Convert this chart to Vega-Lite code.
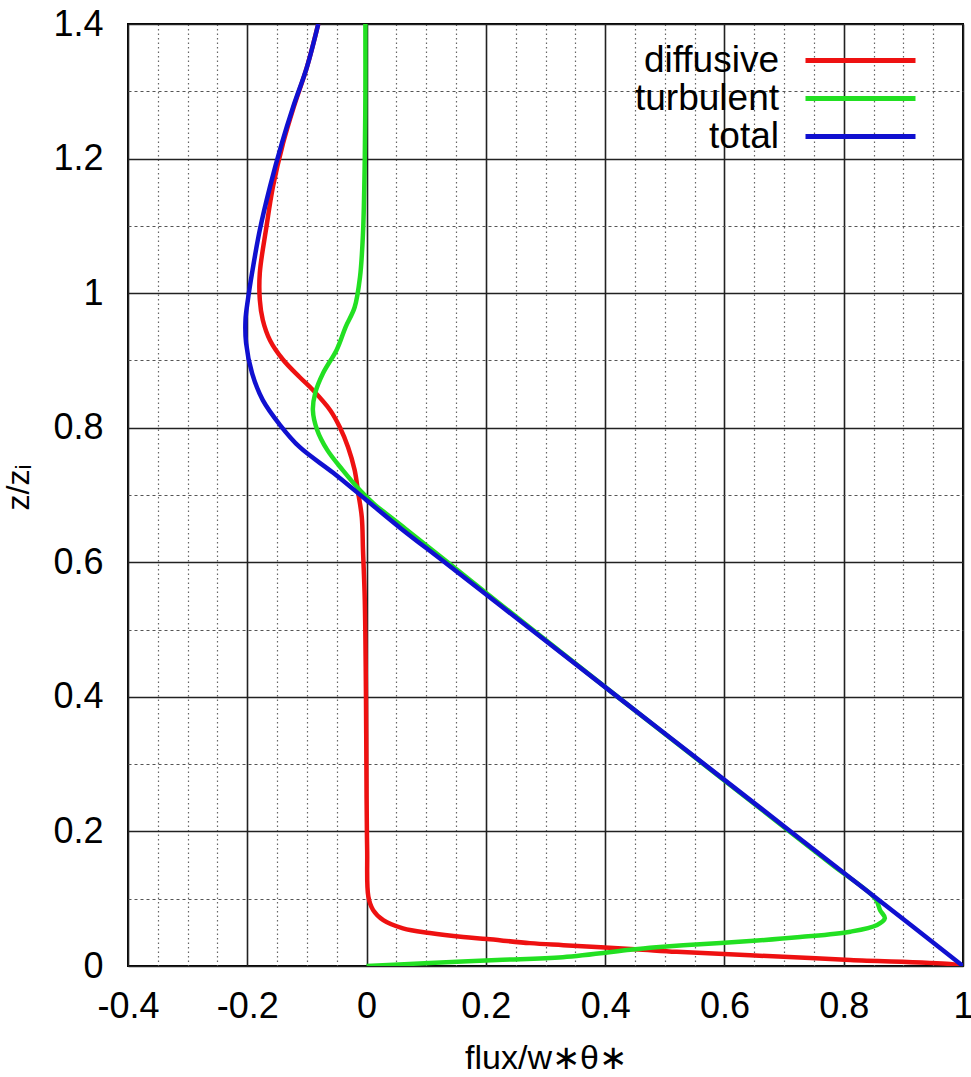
{
  "$schema": "https://vega.github.io/schema/vega-lite/v6.json",
  "width": 835,
  "height": 942,
  "autosize": "none",
  "padding": {"left": 128, "top": 24, "right": 8, "bottom": 111},
  "background": "white",
  "config": {
    "view": {"stroke": "black", "strokeWidth": 2},
    "font": "Liberation Sans"
  },
  "data": {
    "values": [
      {"series": "diffusive", "flux": 1.0, "z": 0.0},
      {"series": "diffusive", "flux": 0.978, "z": 0.003},
      {"series": "diffusive", "flux": 0.811, "z": 0.009},
      {"series": "diffusive", "flux": 0.643, "z": 0.016},
      {"series": "diffusive", "flux": 0.52, "z": 0.021},
      {"series": "diffusive", "flux": 0.45, "z": 0.025},
      {"series": "diffusive", "flux": 0.33, "z": 0.031},
      {"series": "diffusive", "flux": 0.274, "z": 0.034},
      {"series": "diffusive", "flux": 0.202, "z": 0.04},
      {"series": "diffusive", "flux": 0.162, "z": 0.043},
      {"series": "diffusive", "flux": 0.106, "z": 0.049},
      {"series": "diffusive", "flux": 0.061, "z": 0.056},
      {"series": "diffusive", "flux": 0.028, "z": 0.068},
      {"series": "diffusive", "flux": 0.011, "z": 0.083},
      {"series": "diffusive", "flux": 0.003, "z": 0.103},
      {"series": "diffusive", "flux": 0.001, "z": 0.172},
      {"series": "diffusive", "flux": 0.0, "z": 0.25},
      {"series": "diffusive", "flux": -0.001, "z": 0.4},
      {"series": "diffusive", "flux": -0.003, "z": 0.544},
      {"series": "diffusive", "flux": -0.006, "z": 0.618},
      {"series": "diffusive", "flux": -0.008, "z": 0.667},
      {"series": "diffusive", "flux": -0.014, "z": 0.703},
      {"series": "diffusive", "flux": -0.02, "z": 0.737},
      {"series": "diffusive", "flux": -0.031, "z": 0.771},
      {"series": "diffusive", "flux": -0.045, "z": 0.801},
      {"series": "diffusive", "flux": -0.061, "z": 0.826},
      {"series": "diffusive", "flux": -0.09, "z": 0.856},
      {"series": "diffusive", "flux": -0.112, "z": 0.875},
      {"series": "diffusive", "flux": -0.14, "z": 0.901},
      {"series": "diffusive", "flux": -0.162, "z": 0.93},
      {"series": "diffusive", "flux": -0.174, "z": 0.96},
      {"series": "diffusive", "flux": -0.179, "z": 0.99},
      {"series": "diffusive", "flux": -0.179, "z": 1.03},
      {"series": "diffusive", "flux": -0.168, "z": 1.098},
      {"series": "diffusive", "flux": -0.157, "z": 1.158},
      {"series": "diffusive", "flux": -0.14, "z": 1.223},
      {"series": "diffusive", "flux": -0.122, "z": 1.277},
      {"series": "diffusive", "flux": -0.1, "z": 1.336},
      {"series": "diffusive", "flux": -0.081, "z": 1.4},
      {"series": "turbulent", "flux": 0.0, "z": 0.0},
      {"series": "turbulent", "flux": 0.106, "z": 0.0045},
      {"series": "turbulent", "flux": 0.219, "z": 0.009},
      {"series": "turbulent", "flux": 0.329, "z": 0.013},
      {"series": "turbulent", "flux": 0.442, "z": 0.024},
      {"series": "turbulent", "flux": 0.475, "z": 0.027},
      {"series": "turbulent", "flux": 0.531, "z": 0.031},
      {"series": "turbulent", "flux": 0.643, "z": 0.037},
      {"series": "turbulent", "flux": 0.727, "z": 0.043},
      {"series": "turbulent", "flux": 0.811, "z": 0.051},
      {"series": "turbulent", "flux": 0.856, "z": 0.061},
      {"series": "turbulent", "flux": 0.869, "z": 0.071},
      {"series": "turbulent", "flux": 0.861, "z": 0.083},
      {"series": "turbulent", "flux": 0.853, "z": 0.1},
      {"series": "turbulent", "flux": 0.781, "z": 0.15},
      {"series": "turbulent", "flux": 0.709, "z": 0.2},
      {"series": "turbulent", "flux": 0.565, "z": 0.3},
      {"series": "turbulent", "flux": 0.421, "z": 0.4},
      {"series": "turbulent", "flux": 0.278, "z": 0.5},
      {"series": "turbulent", "flux": 0.136, "z": 0.6},
      {"series": "turbulent", "flux": 0.065, "z": 0.65},
      {"series": "turbulent", "flux": 0.011, "z": 0.688},
      {"series": "turbulent", "flux": -0.011, "z": 0.707},
      {"series": "turbulent", "flux": -0.04, "z": 0.737},
      {"series": "turbulent", "flux": -0.066, "z": 0.767},
      {"series": "turbulent", "flux": -0.083, "z": 0.797},
      {"series": "turbulent", "flux": -0.09, "z": 0.826},
      {"series": "turbulent", "flux": -0.086, "z": 0.852},
      {"series": "turbulent", "flux": -0.073, "z": 0.881},
      {"series": "turbulent", "flux": -0.05, "z": 0.916},
      {"series": "turbulent", "flux": -0.035, "z": 0.95},
      {"series": "turbulent", "flux": -0.02, "z": 0.979},
      {"series": "turbulent", "flux": -0.011, "z": 1.024},
      {"series": "turbulent", "flux": -0.006, "z": 1.089},
      {"series": "turbulent", "flux": -0.003, "z": 1.2},
      {"series": "turbulent", "flux": -0.002, "z": 1.3},
      {"series": "turbulent", "flux": -0.002, "z": 1.4},
      {"series": "total", "flux": 1.0, "z": 0.0},
      {"series": "total", "flux": 0.856, "z": 0.1},
      {"series": "total", "flux": 0.711, "z": 0.2},
      {"series": "total", "flux": 0.566, "z": 0.3},
      {"series": "total", "flux": 0.421, "z": 0.4},
      {"series": "total", "flux": 0.276, "z": 0.5},
      {"series": "total", "flux": 0.131, "z": 0.6},
      {"series": "total", "flux": 0.058, "z": 0.65},
      {"series": "total", "flux": -0.001, "z": 0.693},
      {"series": "total", "flux": -0.056, "z": 0.733},
      {"series": "total", "flux": -0.112, "z": 0.771},
      {"series": "total", "flux": -0.145, "z": 0.804},
      {"series": "total", "flux": -0.174, "z": 0.841},
      {"series": "total", "flux": -0.192, "z": 0.881},
      {"series": "total", "flux": -0.202, "z": 0.926},
      {"series": "total", "flux": -0.203, "z": 0.96},
      {"series": "total", "flux": -0.199, "z": 0.99},
      {"series": "total", "flux": -0.192, "z": 1.03},
      {"series": "total", "flux": -0.179, "z": 1.094},
      {"series": "total", "flux": -0.162, "z": 1.158},
      {"series": "total", "flux": -0.142, "z": 1.223},
      {"series": "total", "flux": -0.123, "z": 1.277},
      {"series": "total", "flux": -0.1, "z": 1.336},
      {"series": "total", "flux": -0.081, "z": 1.4}
    ]
  },
  "encoding": {
    "x": {
      "field": "flux",
      "type": "quantitative",
      "scale": {"domain": [-0.4, 1], "nice": false, "zero": false},
      "axis": {
        "values": [-0.4, -0.35, -0.3, -0.25, -0.2, -0.15, -0.1, -0.05, 0, 0.05, 0.1, 0.15, 0.2, 0.25, 0.3, 0.35, 0.4, 0.45, 0.5, 0.55, 0.6, 0.65, 0.7, 0.75, 0.8, 0.85, 0.9, 0.95, 1],
        "grid": true,
        "gridColor": {"condition": {"test": "abs(datum.value*5-round(datum.value*5))<0.01", "value": "#222222"}, "value": "#666666"},
        "gridDash": {"condition": {"test": "abs(datum.value*5-round(datum.value*5))<0.01", "value": []}, "value": [1.5, 3]},
        "gridWidth": {"condition": {"test": "abs(datum.value*5-round(datum.value*5))<0.01", "value": 1.6}, "value": 1.2},
        "gridOpacity": 1,
        "ticks": false,
        "tickSize": 0,
        "domain": false,
        "labelExpr": "abs(datum.value*5-round(datum.value*5))<0.01 ? '' + round(datum.value*10)/10 : ''",
        "labelFont": "Liberation Sans",
        "labelFontSize": 36,
        "labelColor": "black",
        "labelPadding": 23,
        "labelFlush": false,
        "labelOverlap": false,
        "labelBound": false,
        "title": "flux/w∗θ∗",
        "titleFont": "Liberation Sans",
        "titleFontSize": 34,
        "titleFontWeight": "normal",
        "titleColor": "black",
        "titleY": 102,
        "titleBaseline": "alphabetic"
      }
    },
    "y": {
      "field": "z",
      "type": "quantitative",
      "scale": {"domain": [0, 1.4], "nice": false, "zero": false},
      "axis": {
        "values": [0, 0.1, 0.2, 0.3, 0.4, 0.5, 0.6, 0.7, 0.8, 0.9, 1, 1.1, 1.2, 1.3, 1.4],
        "grid": true,
        "gridColor": {"condition": {"test": "abs(datum.value*5-round(datum.value*5))<0.01", "value": "#222222"}, "value": "#555555"},
        "gridDash": {"condition": {"test": "abs(datum.value*5-round(datum.value*5))<0.01", "value": []}, "value": [3, 3]},
        "gridWidth": {"condition": {"test": "abs(datum.value*5-round(datum.value*5))<0.01", "value": 1.6}, "value": 1.2},
        "gridOpacity": 1,
        "ticks": false,
        "tickSize": 0,
        "domain": false,
        "labelExpr": "abs(datum.value*5-round(datum.value*5))<0.01 ? '' + round(datum.value*10)/10 : ''",
        "labelFont": "Liberation Sans",
        "labelFontSize": 36,
        "labelColor": "black",
        "labelPadding": 25,
        "labelOverlap": false,
        "labelBound": false,
        "labelFlush": false,
        "title": "z/zᵢ",
        "titleFont": "Liberation Sans",
        "titleFontSize": 32,
        "titleFontWeight": "normal",
        "titleColor": "black",
        "titleX": -110,
        "titleY": 463,
        "titleAngle": -90,
        "titleAlign": "center",
        "titleBaseline": "middle"
      }
    },
    "color": {
      "field": "series",
      "type": "nominal",
      "scale": {"domain": ["diffusive", "turbulent", "total"], "range": ["#ee1111", "#22e022", "#1010d0"]},
      "legend": {
        "orient": "none",
        "legendX": 480,
        "legendY": 18,
        "direction": "vertical",
        "title": null,
        "symbolType": "M-5,0H5",
        "symbolSize": 484,
        "symbolStrokeWidth": 5,
        "symbolOffset": 234,
        "labelOffset": -100,
        "labelAlign": "right",
        "labelBaseline": "middle",
        "labelFont": "Liberation Sans",
        "labelFontSize": 37,
        "labelColor": "black",
        "labelLimit": 300,
        "rowPadding": 0,
        "padding": 0
      }
    },
    "order": {"field": "z", "type": "quantitative"}
  },
  "layer": [
    {
      "transform": [{"filter": "datum.series === 'diffusive'"}],
      "mark": {"type": "line", "strokeWidth": 4.5, "interpolate": "catmull-rom", "clip": true}
    },
    {
      "transform": [{"filter": "datum.series === 'turbulent'"}],
      "mark": {"type": "line", "strokeWidth": 4.5, "interpolate": "catmull-rom", "clip": true}
    },
    {
      "transform": [{"filter": "datum.series === 'total'"}],
      "mark": {"type": "line", "strokeWidth": 4.5, "interpolate": "catmull-rom", "clip": true}
    }
  ]
}
